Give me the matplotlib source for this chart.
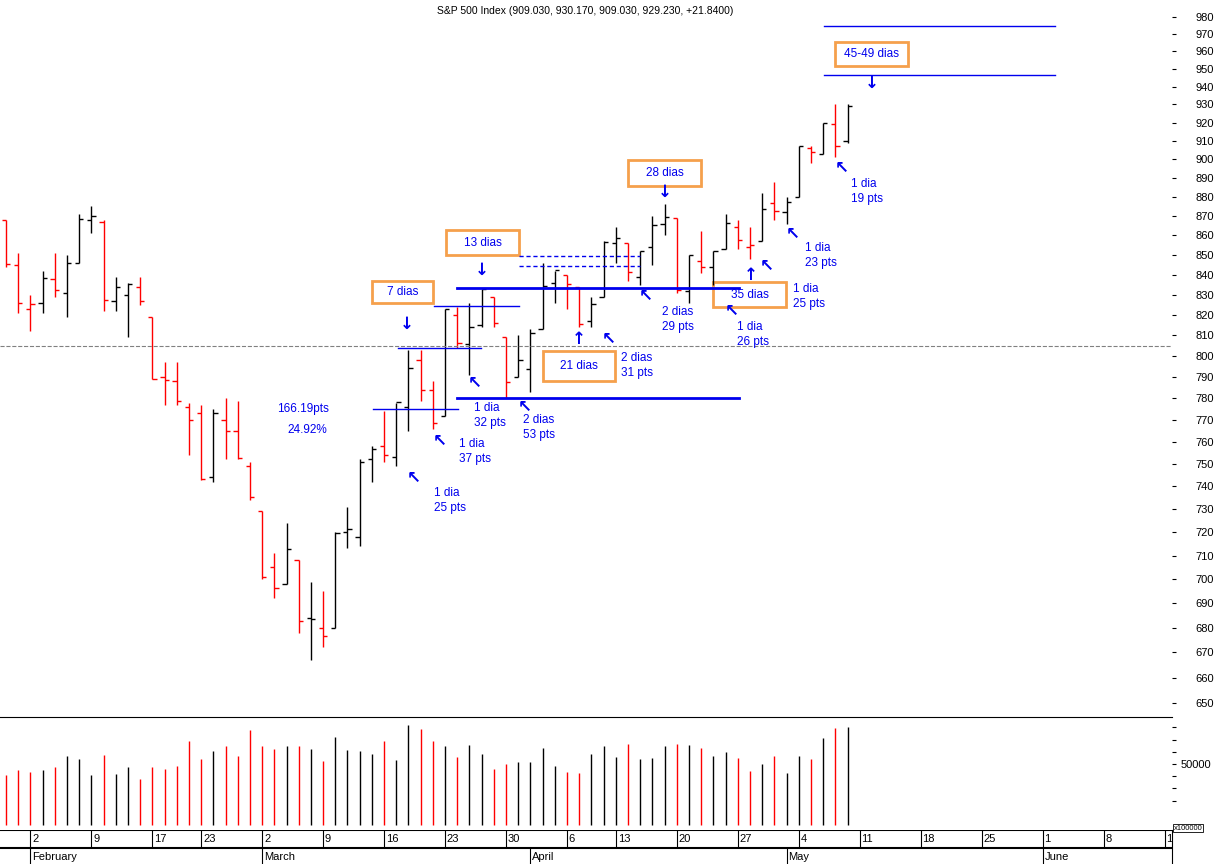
import numpy as np
import matplotlib
matplotlib.use("Agg")
import matplotlib.pyplot as plt
from matplotlib.transforms import Affine2D

plt.rcParams["font.family"] = "Liberation Sans"

# daily bars, Jan 29 .. May 8 2009 (trading-day index 0..69)
opens = [868, 845, 823, 826, 838, 831, 846, 868, 867, 827, 830, 834, 819, 790, 788, 776, 773, 744, 770, 765, 749,
         729, 705, 698, 708, 684, 680, 680, 720, 718, 752, 758, 753, 776, 798, 784, 772, 820, 806, 815, 829, 809, 790,
         794, 813, 836, 840, 834, 817, 829, 856, 856, 839, 854, 866, 869, 832, 847, 844, 853, 864, 854, 857, 877, 872,
         880, 906, 903, 919, 910]
highs = [868, 851, 830, 842, 851, 850, 871, 875, 868, 839, 836, 839, 819, 797, 797, 778, 777, 775, 780, 779, 751,
         729, 711, 724, 708, 699, 695, 720, 731, 752, 758, 774, 778, 803, 803, 788, 823, 824, 826, 833, 829, 809, 810,
         813, 846, 842, 840, 834, 829, 857, 864, 856, 852, 870, 876, 869, 850, 862, 852, 871, 868, 864, 882, 888, 880,
         907, 907, 920, 930, 930]
lows = [844, 821, 812, 821, 829, 819, 846, 861, 822, 822, 809, 825, 789, 777, 777, 754, 743, 742, 752, 752, 734,
        700, 692, 698, 678, 667, 672, 680, 713, 714, 742, 751, 749, 765, 779, 766, 772, 804, 791, 814, 814, 780, 790,
        783, 813, 826, 823, 814, 814, 829, 846, 837, 835, 845, 860, 831, 826, 841, 835, 853, 853, 848, 857, 868, 866,
        880, 898, 903, 901, 909]
closes = [845.1, 825.9, 825.4, 838.5, 832.2, 845.9, 868.6, 869.9, 827.2, 833.7, 835.2, 826.8, 789.2, 788.4, 778.9,
          770.1, 743.3, 773.1, 764.9, 752.8, 735.1, 700.8, 696.3, 712.9, 682.6, 683.4, 676.5, 719.6, 721.4, 750.7,
          756.6, 753.9, 778.1, 794.4, 784.0, 768.5, 822.9, 806.1, 813.9, 832.9, 815.9, 787.5, 797.9, 811.1, 834.4,
          842.5, 835.5, 815.6, 825.2, 856.6, 858.7, 841.5, 852.1, 865.3, 869.6, 832.4, 850.1, 843.6, 851.9, 866.2,
          857.5, 855.2, 873.6, 872.8, 877.5, 907.2, 903.8, 919.5, 907.4, 929.2]
prev_close = 874.1
volume_k = [41.3, 45.4, 43.2, 45.4, 47.9, 56.9, 54.5, 41.3, 57.8, 42.1, 47.9, 38.0, 47.9, 46.2, 48.7, 69.3, 54.5,
            61.1, 64.4, 56.9, 77.6, 65.2, 62.7, 64.4, 64.4, 62.7, 52.8, 72.6, 61.6, 61.1, 58.6, 68.5, 53.6, 81.7,
            78.4, 68.5, 65.2, 56.1, 66.0, 58.6, 46.2, 50.3, 52.0, 52.0, 63.5, 48.7, 43.7, 42.9, 58.6, 65.2, 56.1,
            66.8, 54.5, 55.3, 64.4, 66.8, 66.0, 63.5, 56.9, 60.2, 55.3, 44.6, 50.3, 56.9, 42.9, 56.9, 54.5, 71.0,
            79.2, 80.0]

week_idx = [2, 7, 12, 16, 21, 26, 31, 36, 41, 46, 50, 55, 60, 65, 70, 75, 80, 85, 90, 95]
week_lbl = ["2", "9", "17", "23", "2", "9", "16", "23", "30", "6", "13", "20", "27", "4", "11", "18", "25", "1", "8", "15"]
month_idx = [2, 21, 43, 64, 85]
month_lbl = ["February", "March", "April", "May", "June"]

n = len(closes)
x = np.arange(n)
prev = np.r_[prev_close, closes[:-1]]
cols = ["red" if c < p else "black" for c, p in zip(closes, prev)]

fig = plt.figure(figsize=(12.2, 8.64), dpi=100)
W, H = 1220, 864
px = Affine2D().scale(1 / W, -1 / H).translate(0, 1) + fig.transFigure
xl = (-0.49, 95.6)
right = 1172 / W

ax = fig.add_axes([0, (H - 717) / H, right, 717 / H])
ax.set_yscale("log")
ax.set_xlim(*xl)
ax.set_ylim(644.6, 990)
ax.vlines(x, lows, highs, colors=cols, lw=1)
ax.hlines(opens, x - 0.35, x, colors=cols, lw=1)
ax.hlines(closes, x, x + 0.35, colors=cols, lw=1)
for s in ax.spines.values():
    s.set_visible(False)
ax.set_xticks([])
ax.yaxis.tick_right()
ax.set_yticks(range(650, 990, 10))
ax.set_yticklabels([str(v) for v in range(650, 990, 10)], fontsize=8)
ax.yaxis.set_minor_locator(matplotlib.ticker.NullLocator())
ax.tick_params(axis="y", length=3, pad=14)
ax.axhline(805, color="gray", ls="--", lw=0.8)
ax.text(585, 11, "S&P 500 Index (909.030, 930.170, 909.030, 929.230, +21.8400)", transform=px,
        ha="center", va="center", fontsize=7.5)

blue = "#0000ee"
orange = "#f5a04c"

def line(x0, x1, y, lw=1, ls="-", c=blue):
    ax.plot([x0, x1], [y, y], transform=px, color=c, lw=lw, ls=ls, clip_on=False)

line(824, 1055, 26)
line(824, 1055, 75)
line(457, 739, 288, lw=2)
line(457, 739, 398, lw=2)
line(434, 519, 306)
line(398, 481, 348)
line(373, 458, 409)
line(519, 640, 256, ls=(0, (3, 2)))
line(519, 640, 266, ls=(0, (3, 2)))

def box(x0, y0, x1, y1, s):
    ax.add_patch(plt.Rectangle((x0, y1), x1 - x0, y0 - y1, transform=px, fill=False, ec=orange, lw=2, clip_on=False))
    ax.text((x0 + x1) / 2, (y0 + y1) / 2, s, transform=px, ha="center", va="center", color=blue, fontsize=8.5)

box(835, 42, 908, 66, "45-49 dias")
box(628, 160, 701, 186, "28 dias")
box(446, 230, 519, 255, "13 dias")
box(372, 281, 433, 303, "7 dias")
box(543, 351, 615, 381, "21 dias")
box(713, 282, 786, 307, "35 dias")

def txt(x0, y0, s, ha="left"):
    ax.text(x0, y0, s, transform=px, ha=ha, va="top", color=blue, fontsize=8.5, linespacing=1.3)

txt(851, 178, "1 dia\n19 pts")
txt(303, 403, "166.19pts", ha="center")
txt(307, 424, "24.92%", ha="center")
txt(459, 438, "1 dia\n37 pts")
txt(434, 487, "1 dia\n25 pts")
txt(474, 402, "1 dia\n32 pts")
txt(523, 414, "2 dias\n53 pts")
txt(621, 352, "2 dias\n31 pts")
txt(662, 306, "2 dias\n29 pts")
txt(737, 321, "1 dia\n26 pts")
txt(793, 283, "1 dia\n25 pts")
txt(805, 242, "1 dia\n23 pts")

def arrow(x0, y0, s):
    ax.text(x0, y0, s, transform=px, ha="center", va="center", color=blue, fontsize=12, fontweight="bold",
            family="DejaVu Sans")

for ax_, ay_, s in [(872, 83, "↓"), (665, 192, "↓"), (482, 270, "↓"), (407, 324, "↓"),
                    (842, 168, "↖"), (440, 441, "↖"), (414, 478, "↖"), (475, 383, "↖"), (525, 407, "↖"),
                    (609, 339, "↖"), (579, 339, "↑"), (646, 296, "↖"), (732, 311, "↖"), (751, 275, "↑"),
                    (767, 266, "↖"), (793, 234, "↖")]:
    arrow(ax_, ay_, s)

# volume panel
av = fig.add_axes([0, (H - 834) / H, right, 117 / H])
av.set_xlim(*xl)
av.set_ylim(-7.4, 88.6)
av.vlines(x, 0, volume_k, colors=cols, lw=1)
for k in ["left", "right", "bottom"]:
    av.spines[k].set_visible(False)
av.set_xticks([])
av.yaxis.tick_right()
av.set_yticks(range(20, 90, 10))
av.set_yticklabels(["50000" if v == 50 else "" for v in range(20, 90, 10)], fontsize=8)
av.tick_params(axis="y", length=3)
fig.text(1174 / W, (H - 828) / H, "x100000", fontsize=5.5, va="center",
         bbox=dict(fc="white", ec="black", lw=0.6, pad=0.5))

# date axis
ad = fig.add_axes([0, 0, right, 34 / H])
ad.set_xlim(*xl)
ad.set_ylim(0, 34)
ad.axis("off")
ad.axhline(34, color="black", lw=1.5)
ad.axhline(16, color="black", lw=1.5)
ad.vlines(week_idx, 16, 34, colors="black", lw=0.8)
for i, s in zip(week_idx, week_lbl):
    ad.text(i + 0.15, 25, s, fontsize=8, va="center", clip_on=True)
ad.vlines(month_idx, 0, 16, colors="black", lw=0.8)
for i, s in zip(month_idx, month_lbl):
    ad.text(i + 0.15, 7, s, fontsize=8, va="center")
fig.add_artist(plt.Line2D([right, right], [0, 34 / H], color="black", lw=0.8))

fig.savefig("out.png", dpi=100)
